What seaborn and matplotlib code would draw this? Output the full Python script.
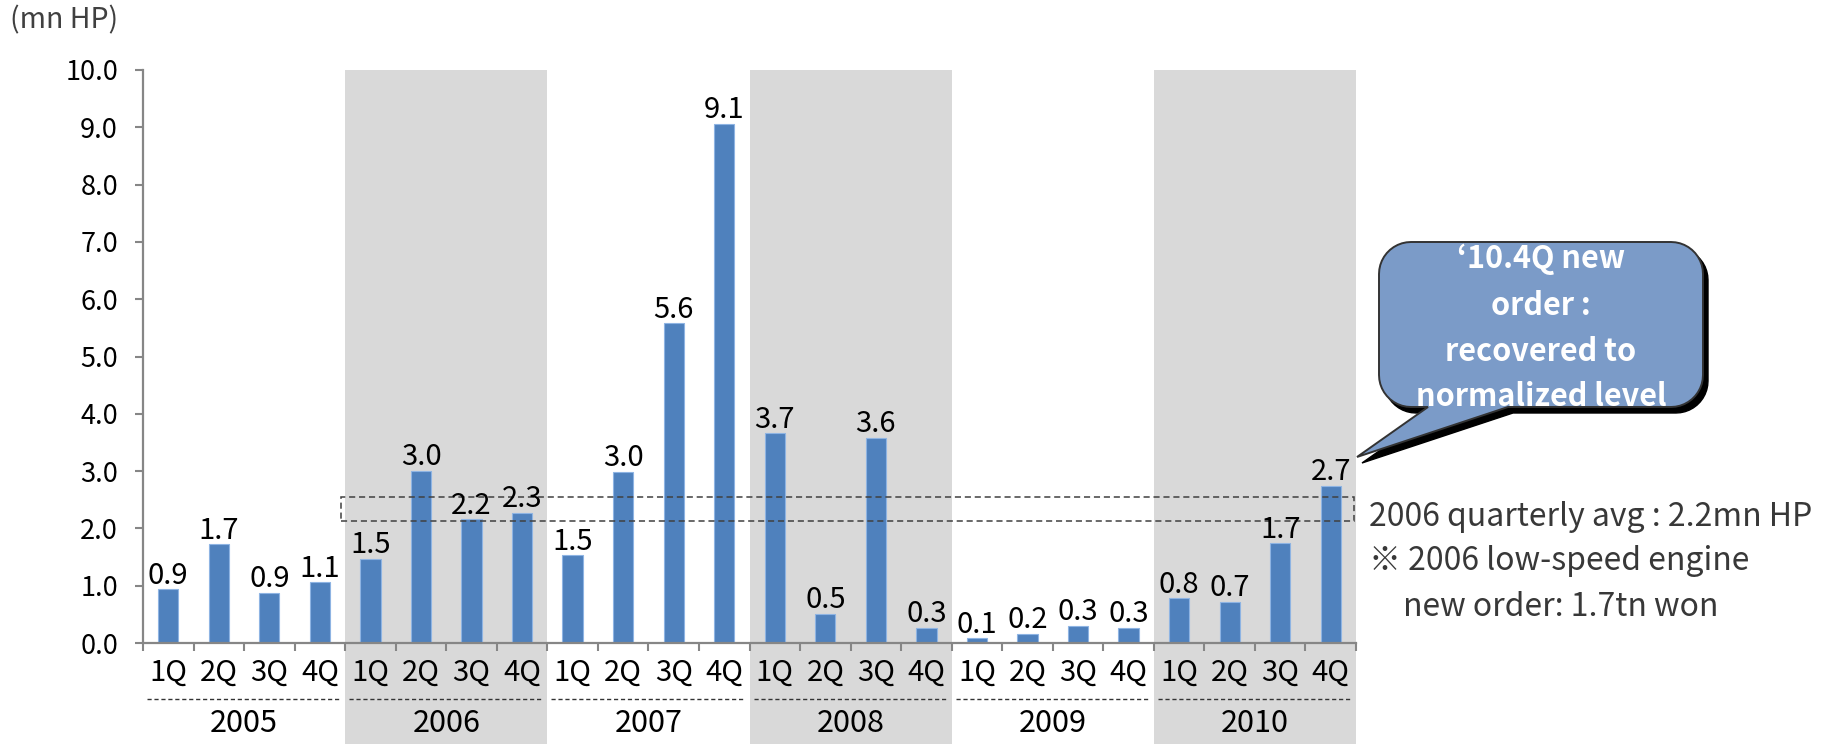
import numpy as np
import pandas as pd
import matplotlib
matplotlib.use("Agg")
import matplotlib.pyplot as plt
import seaborn as sns
from matplotlib.patches import Rectangle, Polygon
from matplotlib.ticker import FormatStrFormatter
from matplotlib.transforms import Affine2D, blended_transform_factory

# Quarterly new orders of low-speed engines (million HP)
years = ["2005", "2006", "2007", "2008", "2009", "2010"]
quarters = ["1Q", "2Q", "3Q", "4Q"]
hp_2005 = [0.94, 1.72, 0.88, 1.06]
hp_2006 = [1.47, 3.00, 2.16, 2.27]
hp_2007 = [1.53, 2.99, 5.58, 9.06]
hp_2008 = [3.66, 0.51, 3.58, 0.27]
hp_2009 = [0.08, 0.16, 0.30, 0.27]
hp_2010 = [0.78, 0.72, 1.74, 2.74]
shaded_years = ["2006", "2008", "2010"]
avg_band = (2.13, 2.55)          # 2006 quarterly average band
y_ticks = [0, 1, 2, 3, 4, 5, 6, 7, 8, 9, 10]

unit_label = "(mn HP)"
callout_lines = ["\u201810.4Q new", "order :", "recovered to", "normalized level"]
note_lines = ["2006 quarterly avg : 2.2mn HP",
              "\u203b 2006 low-speed engine",
              "new order: 1.7tn won"]

series = [hp_2005, hp_2006, hp_2007, hp_2008, hp_2009, hp_2010]
df = pd.DataFrame({
    "year": [y for y in years for _ in quarters],
    "quarter": quarters * len(years),
    "value": [v for s in series for v in s],
})
df["period"] = df["year"] + "-" + df["quarter"]

BAR = "#4F81BD"
SHADE = "#D9D9D9"
AXIS = "#868686"

sns.set_theme(style="white")
plt.rcParams["font.family"] = ["Noto Sans CJK KR", "DejaVu Sans"]

W, H = 1838, 744
fig = plt.figure(figsize=(W / 100, H / 100), dpi=100)
fig.patch.set_facecolor("white")
# pixel coordinates with origin at the top-left corner of the figure
pix = Affine2D().scale(1 / W, -1 / H).translate(0, 1) + fig.transFigure

ax = fig.add_axes([143 / W, 1 - 643 / H, (1356 - 143) / W, (643 - 70) / H])
ax.set_facecolor("none")

sns.barplot(data=df, x="period", y="value", order=list(df["period"]),
            color=BAR, saturation=1, width=0.4, edgecolor="#8EB4E3",
            linewidth=0.8, ax=ax, zorder=2)

ax.set_xlim(-0.5, len(df) - 0.5)
ax.set_ylim(0, 10)
ax.set_xlabel("")
ax.set_ylabel("")

# y axis
ax.set_yticks(y_ticks)
ax.yaxis.set_major_formatter(FormatStrFormatter("%.1f"))
ax.tick_params(axis="y", left=True, direction="out", length=6, width=1.5,
               color=AXIS, labelsize=19.5, pad=12, labelcolor="black")
# x axis: ticks on category boundaries
ax.set_xticks(np.arange(-0.5, len(df), 1))
ax.set_xticklabels([])
ax.tick_params(axis="x", bottom=True, direction="out", length=6, width=1.5,
               color=AXIS)
for side in ["top", "right"]:
    ax.spines[side].set_visible(False)
for side in ["left", "bottom"]:
    ax.spines[side].set_color(AXIS)
    ax.spines[side].set_linewidth(1.6)

# shaded year columns reaching down through the axis labels
band_tr = blended_transform_factory(ax.transData, fig.transFigure)
top = ax.get_position().y1
for y in shaded_years:
    k = years.index(y)
    ax.add_patch(Rectangle((4 * k - 0.5, 0), 4, top, transform=band_tr,
                           facecolor=SHADE, edgecolor="none", zorder=0,
                           clip_on=False))

# value labels
for i, v in enumerate(df["value"]):
    ax.annotate(f"{v:.1f}", (i, v), xytext=(0, -1), textcoords="offset points",
                ha="center", va="bottom", fontsize=21, color="black",
                zorder=4)

# 2006 average band
ax.add_patch(Rectangle((3.42, avg_band[0]), 23.47 - 3.42,
                       avg_band[1] - avg_band[0], fill=False,
                       edgecolor="#404040", linewidth=1.1,
                       linestyle=(0, (4, 2.5)), zorder=3, clip_on=False))

# quarter / year labels under the axis
lab_tr = blended_transform_factory(ax.transData, pix)
for i, q in enumerate(df["quarter"]):
    ax.text(i, 673, q, transform=lab_tr, ha="center", va="center",
            fontsize=21, color="black", clip_on=False)
for k, y in enumerate(years):
    ax.plot([4 * k - 0.42, 4 * k + 3.42], [699, 699], transform=lab_tr,
            color="#333333", linewidth=1.0, linestyle=(0, (3, 2)),
            clip_on=False)
    ax.text(4 * k + 1.5, 723, y, transform=lab_tr, ha="center",
            va="center", fontsize=22, color="black", clip_on=False)

# unit label
fig.text(10, 20, unit_label, transform=pix, ha="left", va="center",
         fontsize=20.5, color="#404040")

# notes on the right
fig.text(1369, 517, note_lines[0], transform=pix, ha="left", va="center",
         fontsize=23, color="#383838")
fig.text(1369, 561, note_lines[1], transform=pix, ha="left", va="center",
         fontsize=23, color="#383838")
fig.text(1403, 607, note_lines[2], transform=pix, ha="left", va="center",
         fontsize=23, color="#383838")


# speech-bubble callout
def bubble(x0, y0, x1, y1, r, tail):
    pts = []
    def arc(cx, cy, a0, a1):
        for a in np.linspace(np.radians(a0), np.radians(a1), 12):
            pts.append((cx + r * np.cos(a), cy + r * np.sin(a)))
    # y grows downward in pixel space
    arc(x0 + r, y0 + r, 180, 270)      # top-left
    arc(x1 - r, y0 + r, 270, 360)      # top-right
    arc(x1 - r, y1 - r, 0, 90)         # bottom-right
    pts.append((tail[2], y1))
    pts.append((tail[1][0], tail[1][1]))
    pts.append((tail[0], y1))
    arc(x0 + r, y1 - r, 90, 180)       # bottom-left
    return pts


tail = (1428, (1357, 457), 1508)
outline = bubble(1379, 242, 1703, 407, 32, tail)
shadow = [(x + 5, y + 6) for x, y in outline]
fig.add_artist(Polygon(shadow, closed=True, transform=pix,
                       facecolor="black", edgecolor="black", zorder=10))
fig.text(1541 + 3, 397 + 5, callout_lines[3], transform=pix, ha="center",
         va="center", fontsize=22, fontweight="bold", color="black",
         zorder=11)
fig.add_artist(Polygon(outline, closed=True, transform=pix,
                       facecolor="#7B9BC8", edgecolor="#333333",
                       linewidth=1.4, zorder=12))
for line, yy in zip(callout_lines, [259, 306, 352, 397]):
    fig.text(1541, yy, line, transform=pix, ha="center", va="center",
             fontsize=22, fontweight="bold", color="white", zorder=13)

fig.savefig("out.png", dpi=100)
